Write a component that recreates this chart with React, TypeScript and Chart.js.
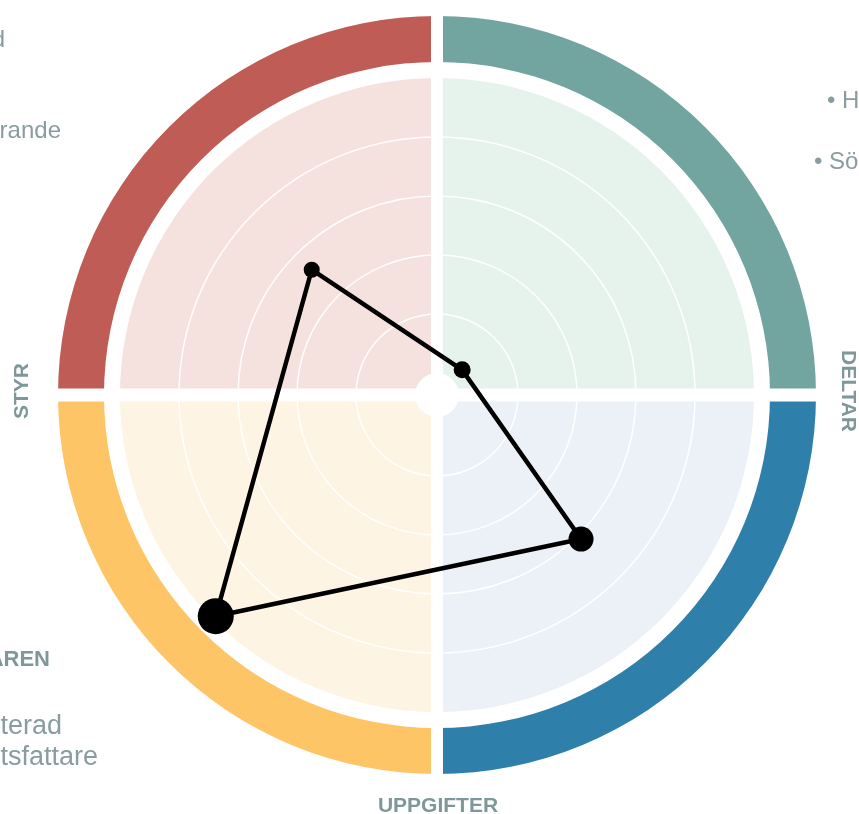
import React, { useEffect, useRef } from "react";
import { Chart, registerables } from "chart.js";

Chart.register(...registerables);

// Quadrant names, clockwise from upper-left
const QUADRANTS = ["Styr", "Deltar", "Uppgifter", "Beställaren"];
// Scores per quadrant (0 = inner white circle, 5 = edge of filled area)
const SCORES = [2.63, 0.23, 3.08, 4.93];
const POINT_RADII = [8, 8.5, 12.5, 18];
const RING_VALUES = [1, 2, 3, 4];
const SCALE_MIN = -0.373;
const SCALE_MAX = 5;

// Quadrant colours: upper-left, upper-right, lower-right, lower-left
const BAND_COLORS = ["#BF5C55", "#72A4A0", "#2E7FA9", "#FDC566"];
const FILL_COLORS = ["#F5E1DD", "#E6F3EC", "#ECF0F7", "#FDF4E3"];

const AXIS_TEXT = { left: "STYR", right: "DELTAR", bottom: "UPPGIFTER", lowerLeft: "BESTÄLLAREN" };
const NOTE_TOP_LEFT = ["• Informerad", "• Koordinerande"];
const NOTE_TOP_RIGHT = ["• Handläggare", "• Sökande"];
const NOTE_BOTTOM_LEFT = ["• Konsulterad", "• Beslutsfattare"];

const LABEL_COLOR = "#7F9799";
const TEXT_COLOR = "#8A9C9F";

const decorPlugin = {
  id: "decor",
  beforeDatasetsDraw(chart: any) {
    const s = chart.scales.r;
    const ctx = chart.ctx as CanvasRenderingContext2D;
    const cx = s.xCenter;
    const cy = s.yCenter;
    const rFill = s.getDistanceFromCenterForValue(SCALE_MAX);
    const rIn = rFill + 16;
    const rOut = rFill + 62;
    const starts = [Math.PI, 1.5 * Math.PI, 0, 0.5 * Math.PI];
    ctx.save();
    starts.forEach((a0, i) => {
      const a1 = a0 + Math.PI / 2;
      ctx.beginPath();
      ctx.moveTo(cx, cy);
      ctx.arc(cx, cy, rFill, a0, a1);
      ctx.closePath();
      ctx.fillStyle = FILL_COLORS[i];
      ctx.fill();
      ctx.beginPath();
      ctx.arc(cx, cy, rOut, a0, a1);
      ctx.arc(cx, cy, rIn, a1, a0, true);
      ctx.closePath();
      ctx.fillStyle = BAND_COLORS[i];
      ctx.fill();
    });
    ctx.strokeStyle = "rgba(255,255,255,0.95)";
    ctx.lineWidth = 1.5;
    RING_VALUES.forEach((v) => {
      const r = s.getDistanceFromCenterForValue(v);
      ctx.beginPath();
      ctx.arc(cx, cy, r, 0, Math.PI * 2);
      ctx.stroke();
    });
    ctx.fillStyle = "#FFFFFF";
    ctx.fillRect(cx - 6, cy - rOut - 3, 12, 2 * rOut + 6);
    ctx.fillRect(cx - rOut - 3, cy - 6.5, 2 * rOut + 6, 13);
    ctx.beginPath();
    ctx.arc(cx, cy, s.getDistanceFromCenterForValue(0), 0, Math.PI * 2);
    ctx.fill();
    ctx.restore();
  },
  afterDraw(chart: any) {
    const ctx = chart.ctx as CanvasRenderingContext2D;
    const s = chart.scales.r;
    const cx = s.xCenter;
    const cy = s.yCenter;
    ctx.save();
    ctx.fillStyle = LABEL_COLOR;
    ctx.font = "bold 21px 'Liberation Sans', Arial, sans-serif";
    ctx.textAlign = "center";
    ctx.textBaseline = "middle";
    ctx.save();
    ctx.translate(22, cy - 4);
    ctx.rotate(-Math.PI / 2);
    ctx.fillText(AXIS_TEXT.left, 0, 0);
    ctx.restore();
    ctx.save();
    ctx.translate(848, cy - 4);
    ctx.rotate(Math.PI / 2);
    ctx.fillText(AXIS_TEXT.right, 0, 0);
    ctx.restore();
    ctx.fillText(AXIS_TEXT.bottom, cx + 1, 806);
    ctx.textAlign = "right";
    ctx.textBaseline = "alphabetic";
    ctx.font = "bold 22px 'Liberation Sans', Arial, sans-serif";
    ctx.fillText(AXIS_TEXT.lowerLeft, 50, 666);

    ctx.fillStyle = TEXT_COLOR;
    ctx.font = "24px 'Liberation Sans', Arial, sans-serif";
    ctx.textAlign = "right";
    ctx.fillText(NOTE_TOP_LEFT[0], 5, 47);
    ctx.fillText(NOTE_TOP_LEFT[1], 61, 138);
    ctx.textAlign = "left";
    ctx.fillText(NOTE_TOP_RIGHT[0], 827, 108);
    ctx.fillText(NOTE_TOP_RIGHT[1], 814, 169);
    ctx.font = "27px 'Liberation Sans', Arial, sans-serif";
    ctx.textAlign = "right";
    ctx.fillText(NOTE_BOTTOM_LEFT[0], 62, 734);
    ctx.fillText(NOTE_BOTTOM_LEFT[1], 98, 765);
    ctx.restore();
  },
};

export default function App() {
  const ref = useRef<HTMLCanvasElement | null>(null);
  useEffect(() => {
    if (!ref.current) return;
    const chart = new Chart(ref.current, {
      type: "radar",
      data: {
        labels: QUADRANTS,
        datasets: [
          {
            data: SCORES,
            borderColor: "#000000",
            borderWidth: 4.5,
            backgroundColor: "#000000",
            pointBackgroundColor: "#000000",
            pointBorderColor: "#000000",
            pointBorderWidth: 0,
            pointRadius: POINT_RADII,
            fill: false,
            tension: 0,
          },
        ],
      },
      options: {
        responsive: false,
        animation: false,
        layout: { padding: { left: 120, top: 78, right: 105, bottom: 102 } },
        plugins: { legend: { display: false }, tooltip: { enabled: false } },
        scales: {
          r: {
            min: SCALE_MIN,
            max: SCALE_MAX,
            startAngle: -45,
            grid: { display: false },
            angleLines: { display: false },
            pointLabels: { display: false },
            ticks: { display: false },
          },
        },
      },
      plugins: [decorPlugin],
    } as any);
    return () => chart.destroy();
  }, []);
  return (
    <div style={{ position: "absolute", left: 0, top: 0, width: 859, height: 814 }}>
      <canvas ref={ref} width={859} height={814} style={{ display: "block" }} />
    </div>
  );
}
